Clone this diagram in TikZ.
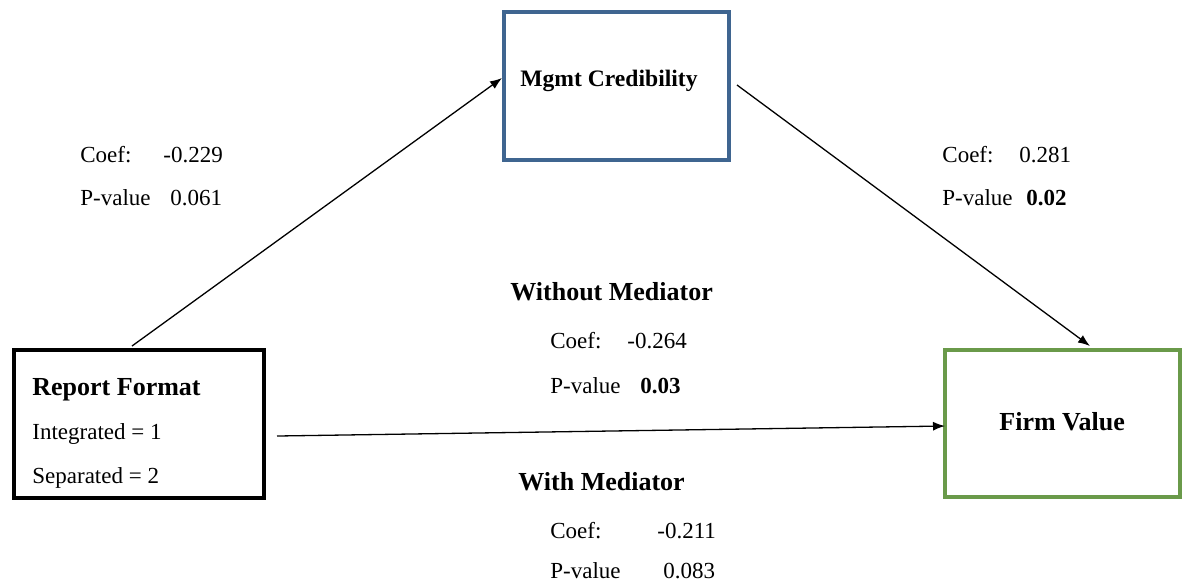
\documentclass[tikz,border=0pt]{standalone}
\usepackage{fontspec}
\setmainfont{Liberation Serif}
\usetikzlibrary{arrows.meta}
\definecolor{mcblue}{HTML}{3F6590}
\definecolor{fvgreen}{HTML}{6A9A4A}
\tikzset{
  box/.style={draw, line width=2pt, rectangle, inner sep=0pt},
  txt/.style={anchor=base west, inner sep=0pt, font=\fontsize{11.5}{14}\selectfont},
  btxt/.style={anchor=base west, inner sep=0pt, font=\fontsize{13}{15}\selectfont\bfseries},
  conn/.style={line width=0.65pt, -{Latex[length=6pt,width=4.5pt]}}
}
\begin{document}
\begin{tikzpicture}[x=0.5pt,y=-0.5pt]
\useasboundingbox (0,0) rectangle (1182,586);
% boxes
\node[box, draw=mcblue, minimum width=112.5pt, minimum height=74pt] (mc) at (616.5,86) {};
\node[box, draw=black, minimum width=125pt, minimum height=74pt] (rf) at (139,424) {};
\node[box, draw=fvgreen, minimum width=117.5pt, minimum height=73.5pt] (fv) at (1062.5,423.5) {};
% box texts
\node[btxt, font=\fontsize{11.8}{14}\selectfont\bfseries] (mct) at (520,86) {Mgmt Credibility};
\node[btxt] (rft) at (32,395) {Report Format};
\node[txt] (rfi) at (32,439) {Integrated = 1};
\node[txt] (rfs) at (32,483) {Separated = 2};
\node[btxt] (fvt) at (999,430) {Firm Value};
% left path stats
\node[txt] (c1) at (80,162) {Coef:};
\node[txt] (c1v) at (163,162) {-0.229};
\node[txt] (p1) at (80,205) {P-value};
\node[txt] (p1v) at (170,205) {0.061};
% right path stats
\node[txt] (c2) at (942,162) {Coef:};
\node[txt] (c2v) at (1019,162) {0.281};
\node[txt] (p2) at (942,205) {P-value};
\node[txt] (p2v) at (1026,205) {\bfseries 0.02};
% without mediator
\node[btxt] (wo) at (510,300) {Without Mediator};
\node[txt] (c3) at (550,348) {Coef:};
\node[txt] (c3v) at (627,348) {-0.264};
\node[txt] (p3) at (550,393) {P-value};
\node[txt] (p3v) at (640,393) {\bfseries 0.03};
% with mediator
\node[btxt] (wm) at (518,490) {With Mediator};
\node[txt] (c4) at (550,538) {Coef:};
\node[txt] (c4v) at (657,538) {-0.211};
\node[txt] (p4) at (550,578) {P-value};
\node[txt] (p4v) at (663,578) {0.083};
% connectors
\draw[conn] ([xshift=-3.5pt,yshift=1pt]rf.north) -- ([yshift=4pt]mc.west);
\draw[conn] ([xshift=3pt,yshift=0.5pt]mc.east) -- ([xshift=13.75pt,yshift=1pt]fv.north);
\draw[conn] ([xshift=5.5pt,yshift=-6pt]rf.east) -- ([xshift=1pt,yshift=-1.25pt]fv.west);
\end{tikzpicture}
\end{document}
